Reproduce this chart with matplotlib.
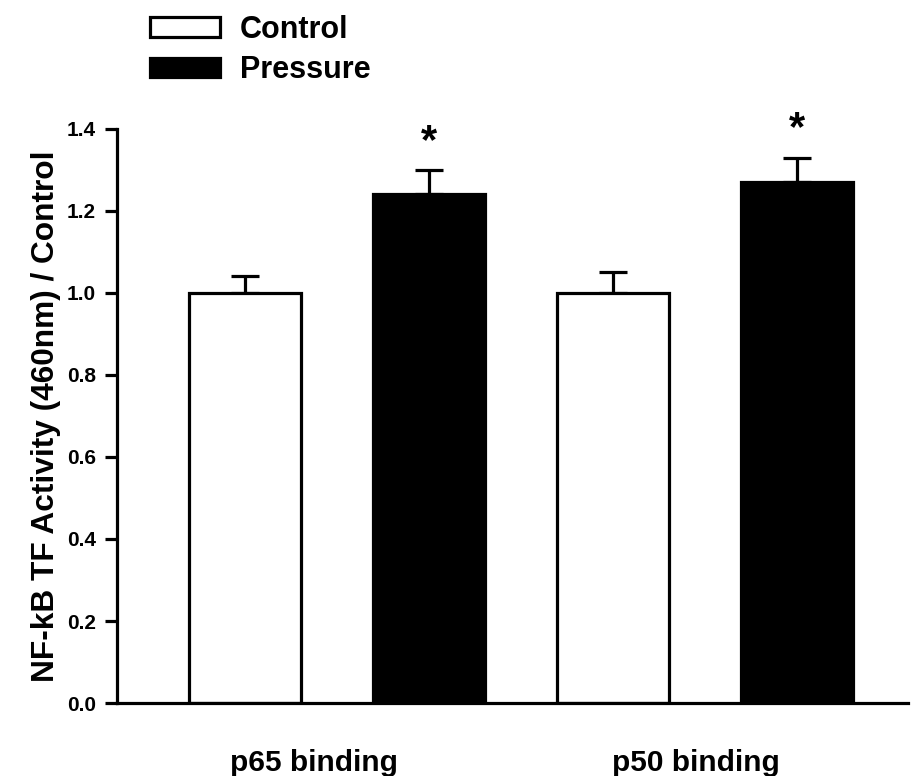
import matplotlib
matplotlib.use("Agg")
import matplotlib.pyplot as plt
import numpy as np

plt.rcParams['font.family'] = ['Liberation Sans', 'DejaVu Sans']
plt.rcParams['font.weight'] = 'bold'

groups = ["p65 binding", "p50 binding"]
series = ["Control", "Pressure"]
control_vals = [1.00, 1.00]
control_err = [0.04, 0.05]
pressure_vals = [1.24, 1.27]
pressure_err = [0.06, 0.06]
significant = [True, True]
yticks = [0.0, 0.2, 0.4, 0.6, 0.8, 1.0, 1.2, 1.4]

fig = plt.figure(figsize=(9.2, 7.76), dpi=100)
ax = fig.add_axes([0.127, 0.094, 0.86, 0.740])

lw = 2.3
x_ctrl = np.array([0, 2])
x_pres = np.array([1, 3])
width = 0.61

b1 = ax.bar(x_ctrl, control_vals, width, color='white', edgecolor='black',
            linewidth=lw, label=series[0], zorder=2)
b2 = ax.bar(x_pres, pressure_vals, width, color='black', edgecolor='black',
            linewidth=lw, label=series[1], zorder=2)

ax.errorbar(x_ctrl, control_vals, yerr=[np.zeros(2), control_err], fmt='none',
            ecolor='black', elinewidth=lw, capsize=10, capthick=lw, zorder=1)
ax.errorbar(x_pres, pressure_vals, yerr=[np.zeros(2), pressure_err], fmt='none',
            ecolor='black', elinewidth=lw, capsize=10, capthick=lw, zorder=1)

for xp, v, e, s in zip(x_pres, pressure_vals, pressure_err, significant):
    if s:
        ax.text(xp, v + e + 0.02, "*", ha='center', va='bottom',
                fontsize=30, fontweight='bold')

ax.set_xlim(-0.696, 3.603)
ax.set_ylim(0, 1.4)
ax.set_yticks(yticks)
ax.set_yticklabels([f"{t:.1f}" for t in yticks], fontsize=15, fontweight='bold')
ax.set_xticks([])

for sp in ['top', 'right']:
    ax.spines[sp].set_visible(False)
ax.spines['left'].set_linewidth(lw)
ax.spines['bottom'].set_linewidth(lw)
ax.spines['left'].set_bounds(0, 1.4)
ax.tick_params(axis='y', direction='out', length=9, width=lw, pad=6)

ax.set_ylabel("NF-kB TF Activity (460nm) / Control", fontsize=22.8,
              fontweight='bold')
ax.yaxis.set_label_coords(-0.070, 0.5)

# group captions, nudged a little left of each pair's midpoint
caption_shift = [-0.125, -0.05]
for i, g in enumerate(groups):
    ax.text((x_ctrl[i] + x_pres[i]) / 2 + caption_shift[i], -0.145, g,
            ha='center', va='center', fontsize=21.5, fontweight='bold',
            transform=ax.transData)

fig.legend(handles=[b1, b2], labels=series, loc='upper left',
           bbox_to_anchor=(0.163, 0.981), frameon=False, fontsize=22,
           handlelength=2.3, handleheight=0.6, labelspacing=0.35,
           handletextpad=0.65, borderaxespad=0.0, borderpad=0.0)

fig.savefig("out.png", dpi=100)
